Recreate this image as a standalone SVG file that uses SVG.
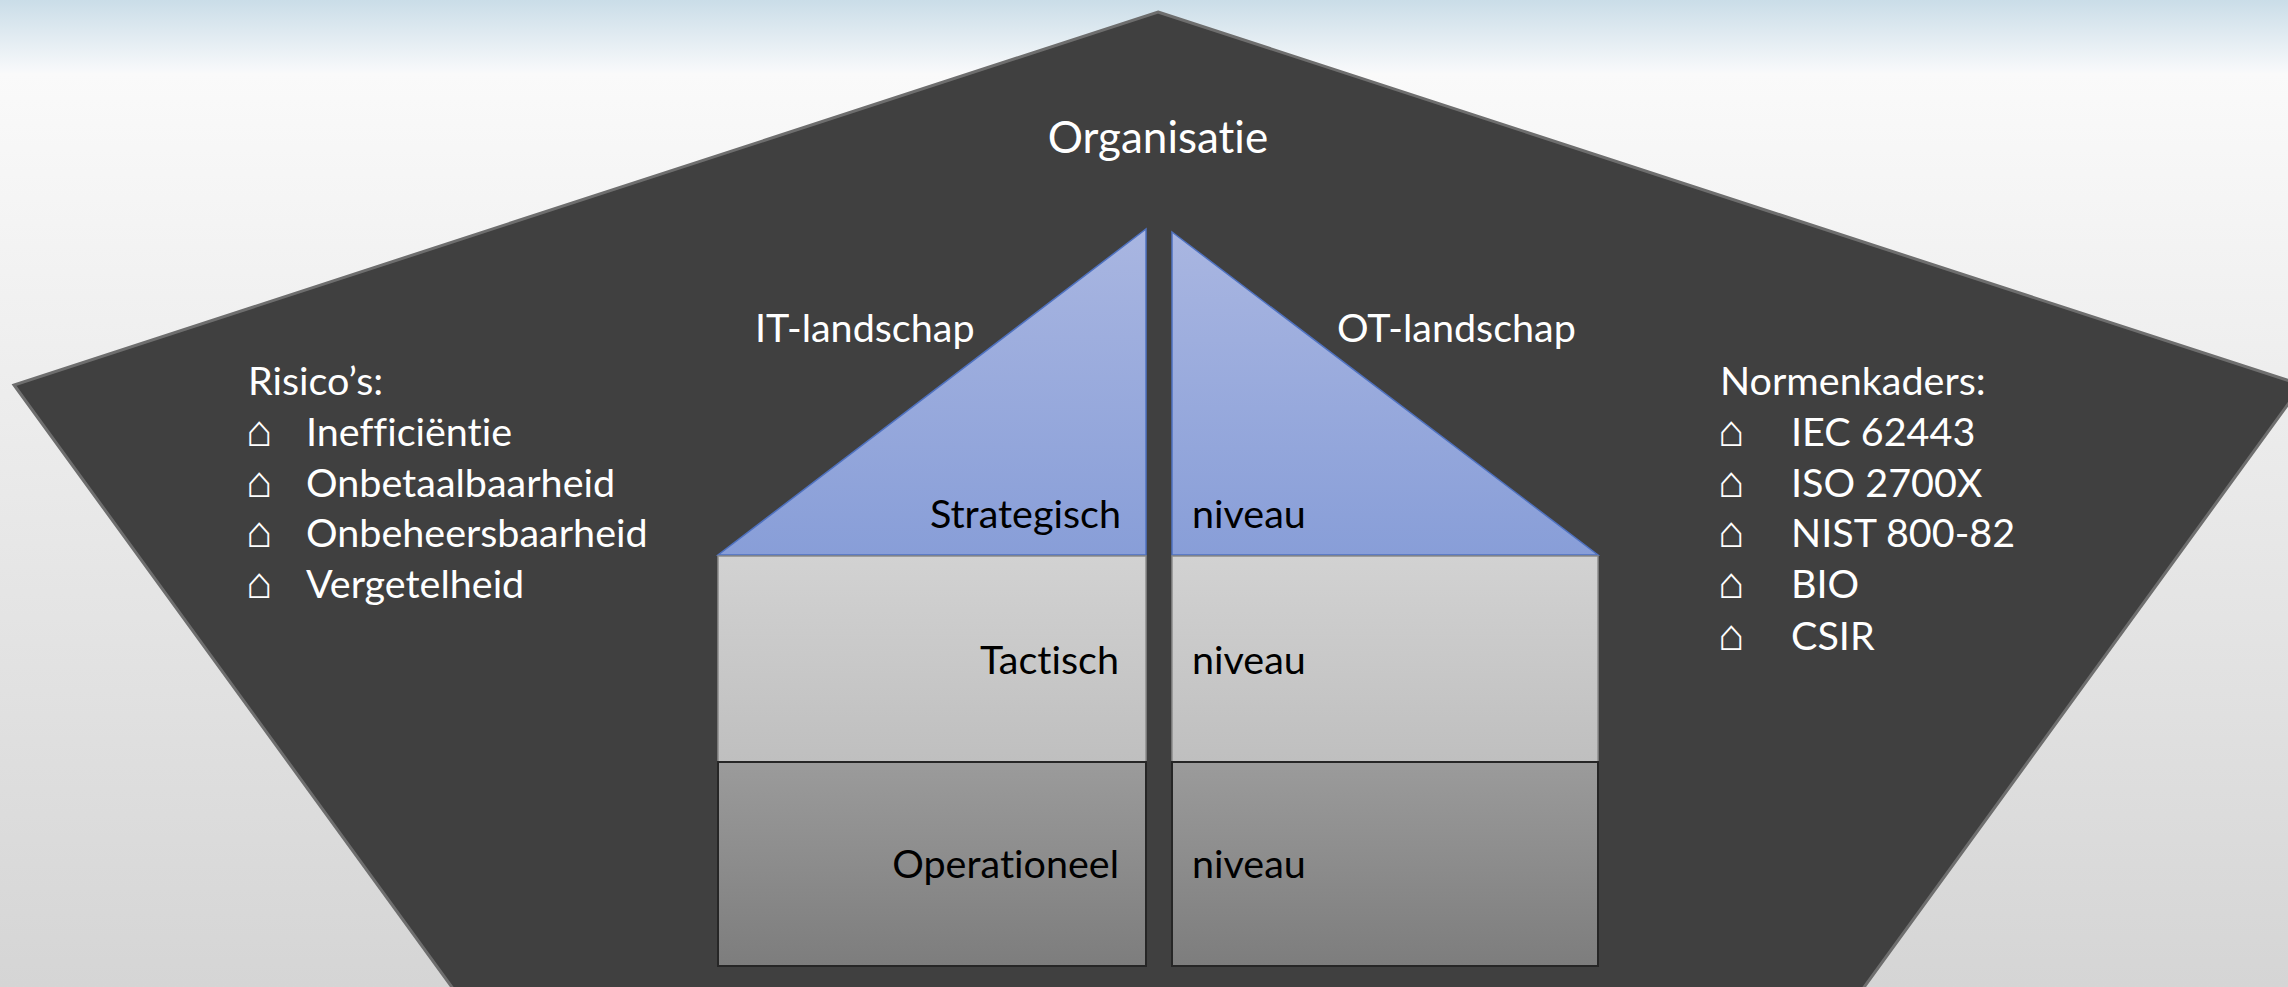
<svg xmlns="http://www.w3.org/2000/svg" width="2288" height="987" viewBox="0 0 2288 987">
<style>
.w{fill:#ffffff;font-family:Lato,"Open Sans","Liberation Sans",sans-serif;font-size:39.5px;font-variant-ligatures:none}
.k{fill:#000000;font-family:Lato,"Open Sans","Liberation Sans",sans-serif;font-size:39.5px;font-variant-ligatures:none}
.b{fill:#ffffff;font-family:"DejaVu Sans",sans-serif;font-weight:200;font-size:44px}
.tri{fill:url(#gTri);stroke:#4f72c0;stroke-width:1.5}
.tac{fill:url(#gTac);stroke:#8c8c8c;stroke-width:1.5}
.ope{fill:url(#gOpe);stroke:#262626;stroke-width:2}
</style>
<defs>
<linearGradient id="gBg" x1="0" y1="0" x2="0" y2="1">
<stop offset="0" stop-color="#cadde8"/>
<stop offset="0.07" stop-color="#f6f8fa"/>
<stop offset="0.075" stop-color="#fafafa"/>
<stop offset="1" stop-color="#d5d5d5"/>
</linearGradient>
<linearGradient id="gTri" x1="0" y1="0" x2="0" y2="1">
<stop offset="0" stop-color="#a9b6e1"/>
<stop offset="1" stop-color="#889ed8"/>
</linearGradient>
<linearGradient id="gTac" x1="0" y1="0" x2="0" y2="1">
<stop offset="0" stop-color="#d2d2d2"/>
<stop offset="1" stop-color="#bfbfbf"/>
</linearGradient>
<linearGradient id="gOpe" x1="0" y1="0" x2="0" y2="1">
<stop offset="0" stop-color="#9b9b9b"/>
<stop offset="1" stop-color="#7d7d7d"/>
</linearGradient>
</defs>
<rect id="background" x="0" y="0" width="2288" height="987" fill="url(#gBg)"/>
<g id="organisatie">
<polygon points="1158,12 2302,385 1782,1100 534,1100 14,385" fill="#404040" stroke="#6e6e6e" stroke-width="3"/>
<text class="w" x="1158" y="153" text-anchor="middle" style="font-size:44px">Organisatie</text>
</g>
<g id="risicos">
<text class="w" x="248" y="395">Risico’s:</text>
<text class="b" x="246" y="446">⌂</text><text class="w" x="306" y="446">Inefficiëntie</text>
<text class="b" x="246" y="497">⌂</text><text class="w" x="306" y="497">Onbetaalbaarheid</text>
<text class="b" x="246" y="547">⌂</text><text class="w" x="306" y="547">Onbeheersbaarheid</text>
<text class="b" x="246" y="598">⌂</text><text class="w" x="306" y="598">Vergetelheid</text>
</g>
<g id="normenkaders">
<text class="w" x="1720" y="395">Normenkaders:</text>
<text class="b" x="1718" y="446">⌂</text><text class="w" x="1791" y="446">IEC 62443</text>
<text class="b" x="1718" y="497">⌂</text><text class="w" x="1791" y="497">ISO 2700X</text>
<text class="b" x="1718" y="547">⌂</text><text class="w" x="1791" y="547">NIST 800-82</text>
<text class="b" x="1718" y="598">⌂</text><text class="w" x="1791" y="598">BIO</text>
<text class="b" x="1718" y="650">⌂</text><text class="w" x="1791" y="650">CSIR</text>
</g>
<g id="it-strategisch">
<polygon class="tri" points="1146,229 1146,555 718,555"/>
<text class="k" x="1121" y="528" text-anchor="end">Strategisch</text>
</g>
<g id="ot-strategisch">
<polygon class="tri" points="1172,232 1598,555 1172,555"/>
<text class="k" x="1192" y="528">niveau</text>
</g>
<g id="it-tactisch">
<rect class="tac" x="718" y="556" width="428" height="206"/>
<text class="k" x="1119" y="674" text-anchor="end">Tactisch</text>
</g>
<g id="ot-tactisch">
<rect class="tac" x="1172" y="556" width="426" height="206"/>
<text class="k" x="1192" y="674">niveau</text>
</g>
<g id="it-operationeel">
<rect class="ope" x="718" y="762" width="428" height="204"/>
<text class="k" x="1119" y="878" text-anchor="end">Operationeel</text>
</g>
<g id="ot-operationeel">
<rect class="ope" x="1172" y="762" width="426" height="204"/>
<text class="k" x="1192" y="878">niveau</text>
</g>
<text class="w" x="755" y="342">IT-landschap</text>
<text class="w" x="1337" y="342">OT-landschap</text>
<g id="connectors"/>
</svg>
